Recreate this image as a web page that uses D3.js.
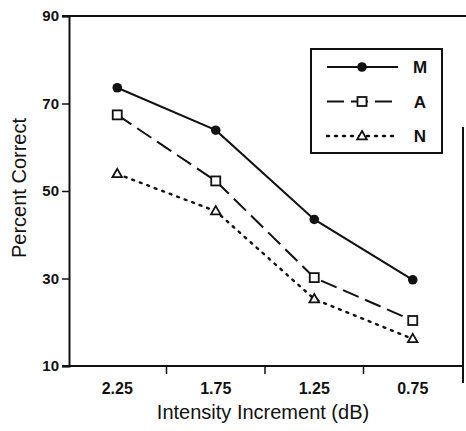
<!DOCTYPE html>
<html><head><meta charset="utf-8">
<script src="https://cdn.jsdelivr.net/npm/d3@7"></script>
<style>body{margin:0;background:#fff}svg{display:block}text{font-family:"Liberation Sans",Arial,sans-serif;fill:#111}</style>
</head><body>
<svg id="c" width="466" height="431"></svg>
<script>
const categories = ["2.25","1.75","1.25","0.75"];
const seriesM = [73.6, 63.9, 43.5, 29.7];
const seriesA = [67.4, 52.3, 30.2, 20.4];
const seriesN = [53.9, 45.4, 25.3, 16.2];
const yTicks = [10, 30, 50, 70, 90];
const seriesNames = ["M","A","N"];

const svg = d3.select("#c");
const x = d3.scaleBand().domain(categories).range([68, 462]);
const y = d3.scaleLinear().domain([10, 90]).range([366, 16]);
const ink = "#111";

// frame
svg.append("line").attr("x1",62).attr("x2",466).attr("y1",y(90)).attr("y2",y(90)).attr("stroke",ink).attr("stroke-width",2);
svg.append("line").attr("x1",463).attr("x2",463).attr("y1",127).attr("y2",383).attr("stroke",ink).attr("stroke-width",2);

// y axis
const yAxis = d3.axisLeft(y).tickValues(yTicks).tickSize(7).tickPadding(3).tickFormat(d3.format("d"));
const gy = svg.append("g").attr("transform","translate(69,0)").call(yAxis);
gy.select(".domain").attr("stroke",ink).attr("stroke-width",2);
gy.selectAll(".tick line").attr("stroke",ink).attr("stroke-width",1.5);
gy.selectAll(".tick text").style("font-size","15px").style("font-weight","bold").attr("fill",ink);

// x axis
const xAxis = d3.axisBottom(x).tickSize(0).tickPadding(17);
const gx = svg.append("g").attr("transform","translate(0,366)").call(xAxis);
gx.select(".domain").remove();
gx.selectAll(".tick text").style("font-size","16px").style("font-weight","bold").attr("fill",ink);
svg.append("line").attr("x1",62).attr("x2",463).attr("y1",366).attr("y2",366).attr("stroke",ink).attr("stroke-width",2);
const bounds = categories.map(c => x(c) + x.bandwidth());
svg.selectAll(".xb").data(bounds.slice(0,3)).enter().append("line")
  .attr("x1",d=>d).attr("x2",d=>d).attr("y1",366).attr("y2",374).attr("stroke",ink).attr("stroke-width",1.5);

// titles
svg.append("text").attr("transform","translate(26,188) rotate(-90)").attr("text-anchor","middle")
  .style("font-size","20px").text("Percent Correct");
svg.append("text").attr("x",263).attr("y",419).attr("text-anchor","middle")
  .style("font-size","20px").text("Intensity Increment (dB)");

const cx = c => x(c) + x.bandwidth()/2;
const line = d3.line().x((d,i)=>cx(categories[i])).y(d=>y(d));
const styles = {
  M:{dash:null, data:seriesM},
  A:{dash:"17,7", data:seriesA},
  N:{dash:"2,6", data:seriesN}
};
function marker(g, name, px, py){
  if(name==="M") g.append("circle").attr("cx",px).attr("cy",py).attr("r",4.8).attr("fill",ink);
  else if(name==="A") g.append("rect").attr("x",px-4.5).attr("y",py-4.5).attr("width",9).attr("height",9).attr("fill","#fff").attr("stroke",ink).attr("stroke-width",1.8);
  else g.append("path").attr("d",d3.symbol(d3.symbolTriangle,40)()).attr("transform",`translate(${px},${py+0.5})`).attr("fill","#fff").attr("stroke",ink).attr("stroke-width",1.8);
}
seriesNames.forEach(n=>{
  const s = styles[n];
  svg.append("path").attr("d",line(s.data)).attr("fill","none").attr("stroke",ink)
    .attr("stroke-width",n==="N"?2.4:2).attr("stroke-dasharray",s.dash).attr("stroke-linecap",n==="N"?"round":"butt");
  s.data.forEach((v,i)=>marker(svg,n,cx(categories[i]),y(v)));
});

// legend
const lg = svg.append("g");
lg.append("rect").attr("x",311).attr("y",49).attr("width",131).attr("height",104).attr("fill","#fff").attr("stroke",ink).attr("stroke-width",2);
seriesNames.forEach((n,i)=>{
  const ly = 67 + i*34.5;
  lg.append("line").attr("x1",327).attr("x2",398).attr("y1",ly).attr("y2",ly).attr("stroke",ink)
    .attr("stroke-width",n==="N"?2.4:2).attr("stroke-dasharray",styles[n].dash).attr("stroke-linecap",n==="N"?"round":"butt");
  marker(lg,n,362,ly);
  lg.append("text").attr("x",420).attr("y",ly+6).attr("text-anchor","middle").style("font-size","17px").style("font-weight","bold").text(n);
});
</script>
</body></html>
